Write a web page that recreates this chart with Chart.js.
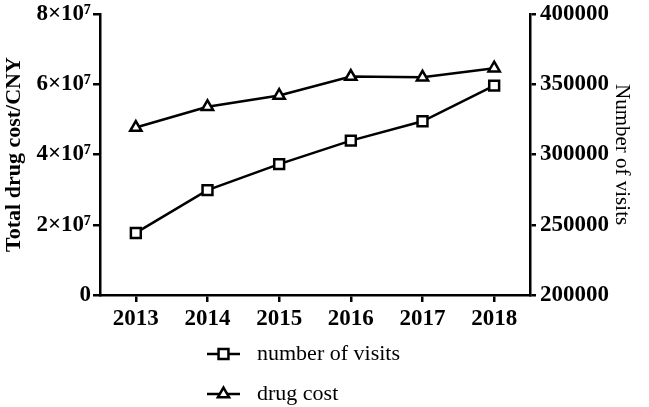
<!DOCTYPE html>
<html>
<head>
<meta charset="utf-8">
<script src="https://cdn.jsdelivr.net/npm/chart.js@4.4.1/dist/chart.umd.min.js"></script>
<style>
  html, body { margin: 0; padding: 0; background: #fff; }
  #wrap { width: 649px; height: 407px; position: relative; }
</style>
</head>
<body>
<div id="wrap"><canvas id="chart"></canvas></div>
<script>
// Datos
const years = ['2013', '2014', '2015', '2016', '2017', '2018'];
const visits = [244200, 274700, 293200, 309900, 323700, 349100];   // eje derecho
const drugCost = [4.77e7, 5.36e7, 5.68e7, 6.22e7, 6.20e7, 6.46e7]; // eje izquierdo

const costTicks = [0, 2e7, 4e7, 6e7, 8e7];
const visitTicks = [200000, 250000, 300000, 350000, 400000];

const serif = "'Liberation Serif', 'Times New Roman', serif";
const ink = '#000';

// Leyenda vertical bajo el grafico
const stackedLegend = {
    id: 'stackedLegend',
    afterDraw(chart) {
        const ctx = chart.ctx;
        const x0 = 207, x1 = 240, tx = 257;
        const rows = [354, 394];
        ctx.save();
        chart.data.datasets.forEach((ds, i) => {
            const y = rows[i];
            ctx.strokeStyle = ink;
            ctx.lineWidth = 2.5;
            ctx.beginPath();
            ctx.moveTo(x0, y);
            ctx.lineTo(x1, y);
            ctx.stroke();
            ctx.fillStyle = '#fff';
            Chart.helpers.drawPoint(ctx, {
                pointStyle: ds.pointStyle,
                radius: ds.pointRadius,
                borderWidth: 2.5
            }, (x0 + x1) / 2, y);
            ctx.fillStyle = ink;
            ctx.font = '22px ' + serif;
            ctx.textBaseline = 'middle';
            ctx.textAlign = 'left';
            ctx.fillText(ds.label, tx, y);
        });
        ctx.restore();
    }
};

const axisGrid = {
    drawOnChartArea: false,
    drawTicks: true,
    tickLength: 7,
    color: ink,
    lineWidth: 2.5
};

new Chart(document.getElementById('chart'), {
    type: 'line',
    data: {
        labels: years,
        datasets: [
            {
                label: 'number of visits',
                data: visits,
                yAxisID: 'y1',
                borderColor: ink,
                borderWidth: 2.5,
                backgroundColor: '#fff',
                pointStyle: 'rect',
                pointRadius: 7,
                pointBorderWidth: 2.5,
                pointBackgroundColor: '#fff',
                pointBorderColor: ink,
                tension: 0
            },
            {
                label: 'drug cost',
                data: drugCost,
                yAxisID: 'y',
                borderColor: ink,
                borderWidth: 2.5,
                backgroundColor: '#fff',
                pointStyle: 'triangle',
                pointRadius: 6.5,
                pointBorderWidth: 2.5,
                pointBackgroundColor: '#fff',
                pointBorderColor: ink,
                tension: 0
            }
        ]
    },
    options: {
        responsive: true,
        maintainAspectRatio: false,
        animation: false,
        devicePixelRatio: 1,
        layout: { padding: { top: 0, right: 0, bottom: 72, left: 0 } },
        plugins: {
            legend: { display: false },
            tooltip: { enabled: false }
        },
        scales: {
            x: {
                type: 'category',
                offset: true,
                grid: axisGrid,
                border: { display: true, color: ink, width: 2.5 },
                ticks: {
                    color: ink,
                    padding: 3,
                    maxRotation: 0,
                    font: { family: serif, size: 23, weight: 'bold' }
                },
                afterFit(scale) { scale.height = 40; }
            },
            y: {
                position: 'left',
                min: 0,
                max: 8e7,
                afterBuildTicks(scale) { scale.ticks = costTicks.map(v => ({ value: v })); },
                grid: axisGrid,
                border: { display: true, color: ink, width: 2.5 },
                ticks: {
                    color: ink,
                    padding: 2,
                    font: { family: serif, size: 23, weight: 'bold', lineHeight: 0.88 },
                    callback: v => v === 0 ? '0' : (v / 1e7) + '\u00d710\u2077'
                },
                title: {
                    display: true,
                    text: 'Total drug cost/CNY',
                    color: ink,
                    padding: { top: 1, bottom: 0 },
                    font: { family: serif, size: 22, weight: 'bold' }
                },
                afterFit(scale) { scale.width = 100; }
            },
            y1: {
                position: 'right',
                min: 200000,
                max: 400000,
                afterBuildTicks(scale) { scale.ticks = visitTicks.map(v => ({ value: v })); },
                grid: Object.assign({}, axisGrid, { tickLength: 6 }),
                border: { display: true, color: ink, width: 2.5 },
                ticks: {
                    color: ink,
                    padding: 4,
                    font: { family: serif, size: 23, weight: 'bold', lineHeight: 0.88 },
                    callback: v => String(v)
                },
                title: {
                    display: true,
                    text: 'Number of visits',
                    color: ink,
                    padding: { top: 15, bottom: 0 },
                    font: { family: serif, size: 21, weight: 'normal' }
                },
                afterFit(scale) { scale.width = 119; }
            }
        }
    },
    plugins: [stackedLegend]
});
</script>
</body>
</html>
